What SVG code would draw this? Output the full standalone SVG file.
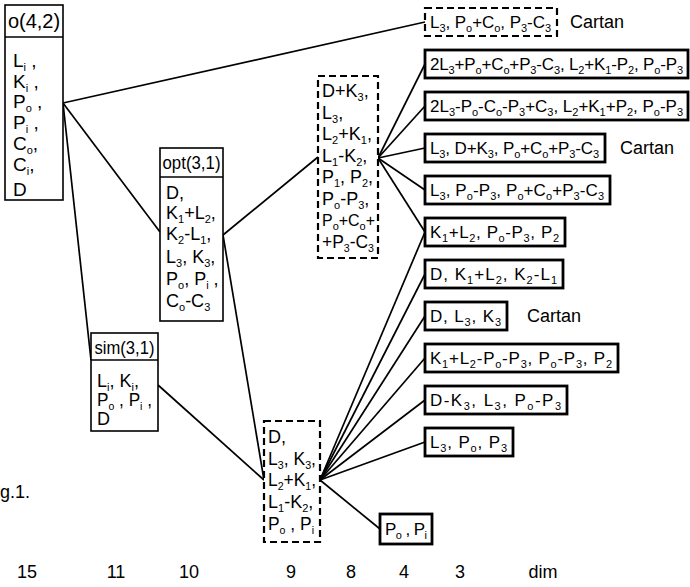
<svg xmlns="http://www.w3.org/2000/svg" width="690" height="587" viewBox="0 0 690 587">
<style>
text{font-family:"Liberation Sans","DejaVu Sans",sans-serif;fill:#000}
.r{font-size:17px}
.c{font-size:18px}
.c2{font-size:19px}
.h{font-size:18px;text-anchor:middle}
.s{font-size:11px;baseline-shift:-4px}
.lbl{font-size:18px;text-anchor:middle}
.ct{font-size:18px}
.bx{fill:#fff;stroke:#000;stroke-width:2.8}
.tb{fill:#fff;stroke:#000;stroke-width:1.6}
.hl{stroke:#000;stroke-width:1.6}
.db{fill:#fff;stroke:#000;stroke-width:2.2;stroke-dasharray:7 4}
#connectors line{stroke:#000;stroke-width:1.7}
</style>
<rect width="690" height="587" fill="#fff"/>
<g id="connectors">
<line x1="63" y1="103" x2="425" y2="22"/>
<line x1="63" y1="103" x2="160" y2="232"/>
<line x1="63" y1="103" x2="91" y2="360"/>
<line x1="223" y1="235" x2="318" y2="157"/>
<line x1="223" y1="235" x2="264" y2="480"/>
<line x1="158" y1="385" x2="264" y2="480"/>
<line x1="378" y1="158" x2="425" y2="64"/>
<line x1="378" y1="158" x2="425" y2="106"/>
<line x1="378" y1="158" x2="425" y2="148"/>
<line x1="378" y1="158" x2="425" y2="190"/>
<line x1="378" y1="158" x2="425" y2="232"/>
<line x1="320" y1="480" x2="425" y2="232"/>
<line x1="320" y1="480" x2="425" y2="274"/>
<line x1="320" y1="480" x2="425" y2="316"/>
<line x1="320" y1="480" x2="425" y2="358"/>
<line x1="320" y1="480" x2="425" y2="400"/>
<line x1="320" y1="480" x2="425" y2="442"/>
<line x1="320" y1="480" x2="380" y2="529"/>
</g>
<g id="o42">
<rect class="tb" x="5" y="5" width="58" height="195"/>
<line class="hl" x1="5" y1="37" x2="63" y2="37"/>
<text class="h" x="34" y="28" style="font-size:20px">o(4,2)</text>
<text class="c2" x="13" y="67">L<tspan class="s">i</tspan> ,</text>
<text class="c2" x="13" y="88">K<tspan class="s">i</tspan> ,</text>
<text class="c2" x="13" y="108">P<tspan class="s">o</tspan> ,</text>
<text class="c2" x="13" y="129">P<tspan class="s">i</tspan> ,</text>
<text class="c2" x="13" y="150">C<tspan class="s">o</tspan>,</text>
<text class="c2" x="13" y="171">C<tspan class="s">i</tspan>,</text>
<text class="c2" x="13" y="196">D</text>
</g>
<g id="opt31">
<rect class="tb" x="160" y="148" width="63" height="173"/>
<line class="hl" x1="160" y1="177" x2="223" y2="177"/>
<text class="h" x="191.5" y="169" textLength="58" lengthAdjust="spacingAndGlyphs">opt(3,1)</text>
<text class="c" x="166" y="199">D,</text>
<text class="c" x="166" y="219">K<tspan class="s">1</tspan>+L<tspan class="s">2</tspan>,</text>
<text class="c" x="166" y="240">K<tspan class="s">2</tspan>-L<tspan class="s">1</tspan>,</text>
<text class="c" x="166" y="263">L<tspan class="s">3</tspan>, K<tspan class="s">3</tspan>,</text>
<text class="c" x="166" y="285">P<tspan class="s">o</tspan>, P<tspan class="s">i</tspan> ,</text>
<text class="c" x="166" y="307">C<tspan class="s">o</tspan>-C<tspan class="s">3</tspan></text>
</g>
<g id="sim31">
<rect class="tb" x="91" y="333" width="67" height="98"/>
<line class="hl" x1="91" y1="360" x2="158" y2="360"/>
<text class="h" x="124.5" y="354" textLength="60" lengthAdjust="spacingAndGlyphs">sim(3,1)</text>
<text class="c" x="97" y="387">L<tspan class="s">i</tspan>, K<tspan class="s">i</tspan>,</text>
<text class="c" x="97" y="406" textLength="55" lengthAdjust="spacingAndGlyphs">P<tspan class="s">o</tspan> , P<tspan class="s">i</tspan> ,</text>
<text class="c" x="97" y="425">D</text>
</g>
<g id="dim8">
<rect class="db" x="318" y="76" width="60" height="182"/>
<text class="c" x="322" y="97">D+K<tspan class="s">3</tspan>,</text>
<text class="c" x="322" y="119">L<tspan class="s">3</tspan>,</text>
<text class="c" x="322" y="140" textLength="50" lengthAdjust="spacingAndGlyphs">L<tspan class="s">2</tspan>+K<tspan class="s">1</tspan>,</text>
<text class="c" x="322" y="162">L<tspan class="s">1</tspan>-K<tspan class="s">2</tspan>,</text>
<text class="c" x="322" y="183" textLength="51" lengthAdjust="spacingAndGlyphs">P<tspan class="s">1</tspan>, P<tspan class="s">2</tspan>,</text>
<text class="c" x="322" y="205">P<tspan class="s">o</tspan>-P<tspan class="s">3</tspan>,</text>
<text x="322" y="226" style="font-size:16px" textLength="53" lengthAdjust="spacingAndGlyphs">P<tspan class="s">o</tspan>+C<tspan class="s">o</tspan>+</text>
<text class="c" x="322" y="248" textLength="52" lengthAdjust="spacingAndGlyphs">+P<tspan class="s">3</tspan>-C<tspan class="s">3</tspan></text>
</g>
<g id="dim9">
<rect class="db" x="264" y="421" width="56" height="121"/>
<text class="c" x="268" y="443">D,</text>
<text class="c" x="268" y="465" textLength="48" lengthAdjust="spacingAndGlyphs">L<tspan class="s">3</tspan>, K<tspan class="s">3</tspan>,</text>
<text class="c" x="268" y="486" textLength="48" lengthAdjust="spacingAndGlyphs">L<tspan class="s">2</tspan>+K<tspan class="s">1</tspan>,</text>
<text class="c" x="268" y="508">L<tspan class="s">1</tspan>-K<tspan class="s">2</tspan>,</text>
<text class="c" x="268" y="530" textLength="46" lengthAdjust="spacingAndGlyphs">P<tspan class="s">o</tspan> , P<tspan class="s">i</tspan></text>
</g>
<g id="r1">
<rect class="db" x="425" y="8" width="132" height="28"/>
<text class="r" x="430" y="28" textLength="121" lengthAdjust="spacing">L<tspan class="s">3</tspan>, P<tspan class="s">o</tspan>+C<tspan class="s">o</tspan>, P<tspan class="s">3</tspan>-C<tspan class="s">3</tspan></text>
<text class="ct" x="570" y="28">Cartan</text>
</g>
<g id="r2">
<rect class="bx" x="425" y="50" width="263" height="28"/>
<text class="r" x="430" y="70" textLength="253" lengthAdjust="spacing">2L<tspan class="s">3</tspan>+P<tspan class="s">o</tspan>+C<tspan class="s">o</tspan>+P<tspan class="s">3</tspan>-C<tspan class="s">3</tspan>, L<tspan class="s">2</tspan>+K<tspan class="s">1</tspan>-P<tspan class="s">2</tspan>, P<tspan class="s">o</tspan>-P<tspan class="s">3</tspan></text>
</g>
<g id="r3">
<rect class="bx" x="425" y="92" width="263" height="28"/>
<text class="r" x="430" y="112" textLength="253" lengthAdjust="spacing">2L<tspan class="s">3</tspan>-P<tspan class="s">o</tspan>-C<tspan class="s">o</tspan>-P<tspan class="s">3</tspan>+C<tspan class="s">3</tspan>, L<tspan class="s">2</tspan>+K<tspan class="s">1</tspan>+P<tspan class="s">2</tspan>, P<tspan class="s">o</tspan>-P<tspan class="s">3</tspan></text>
</g>
<g id="r4">
<rect class="bx" x="425" y="134" width="180" height="28"/>
<text class="r" x="430" y="154" textLength="169" lengthAdjust="spacing">L<tspan class="s">3</tspan>, D+K<tspan class="s">3</tspan>, P<tspan class="s">o</tspan>+C<tspan class="s">o</tspan>+P<tspan class="s">3</tspan>-C<tspan class="s">3</tspan></text>
<text class="ct" x="620" y="154">Cartan</text>
</g>
<g id="r5">
<rect class="bx" x="425" y="176" width="185" height="28"/>
<text class="r" x="430" y="196" textLength="174" lengthAdjust="spacing">L<tspan class="s">3</tspan>, P<tspan class="s">o</tspan>-P<tspan class="s">3</tspan>, P<tspan class="s">o</tspan>+C<tspan class="s">o</tspan>+P<tspan class="s">3</tspan>-C<tspan class="s">3</tspan></text>
</g>
<g id="r6">
<rect class="bx" x="425" y="218" width="140" height="28"/>
<text class="r" x="430" y="238" textLength="129" lengthAdjust="spacing">K<tspan class="s">1</tspan>+L<tspan class="s">2</tspan>, P<tspan class="s">o</tspan>-P<tspan class="s">3</tspan>, P<tspan class="s">2</tspan></text>
</g>
<g id="r7">
<rect class="bx" x="425" y="260" width="138" height="28"/>
<text class="r" x="430" y="280" textLength="127" lengthAdjust="spacing">D, K<tspan class="s">1</tspan>+L<tspan class="s">2</tspan>, K<tspan class="s">2</tspan>-L<tspan class="s">1</tspan></text>
</g>
<g id="r8">
<rect class="bx" x="425" y="302" width="82" height="28"/>
<text class="r" x="430" y="322" textLength="71" lengthAdjust="spacing">D, L<tspan class="s">3</tspan>, K<tspan class="s">3</tspan></text>
<text class="ct" x="527" y="322">Cartan</text>
</g>
<g id="r9">
<rect class="bx" x="425" y="344" width="193" height="28"/>
<text class="r" x="430" y="364" textLength="182" lengthAdjust="spacing">K<tspan class="s">1</tspan>+L<tspan class="s">2</tspan>-P<tspan class="s">o</tspan>-P<tspan class="s">3</tspan>, P<tspan class="s">o</tspan>-P<tspan class="s">3</tspan>, P<tspan class="s">2</tspan></text>
</g>
<g id="r10">
<rect class="bx" x="425" y="386" width="142" height="28"/>
<text class="r" x="430" y="406" textLength="131" lengthAdjust="spacing">D-K<tspan class="s">3</tspan>, L<tspan class="s">3</tspan>, P<tspan class="s">o</tspan>-P<tspan class="s">3</tspan></text>
</g>
<g id="r11">
<rect class="bx" x="425" y="428" width="88" height="28"/>
<text class="r" x="430" y="448" textLength="77" lengthAdjust="spacing">L<tspan class="s">3</tspan>, P<tspan class="s">o</tspan>, P<tspan class="s">3</tspan></text>
</g>
<g id="r12">
<rect class="bx" x="380" y="514" width="52" height="30"/>
<text class="r" x="385" y="535" textLength="42" lengthAdjust="spacing">P<tspan class="s">o</tspan> , P<tspan class="s">i</tspan></text>
</g>
<g id="labels">
<text class="ct" x="0" y="498">g.1.</text>
<text class="lbl" x="27" y="578">15</text>
<text class="lbl" x="116" y="578">11</text>
<text class="lbl" x="189" y="578">10</text>
<text class="lbl" x="291" y="578">9</text>
<text class="lbl" x="351" y="578">8</text>
<text class="lbl" x="404" y="578">4</text>
<text class="lbl" x="460" y="578">3</text>
<text class="lbl" x="543" y="578">dim</text>
</g>
</svg>
